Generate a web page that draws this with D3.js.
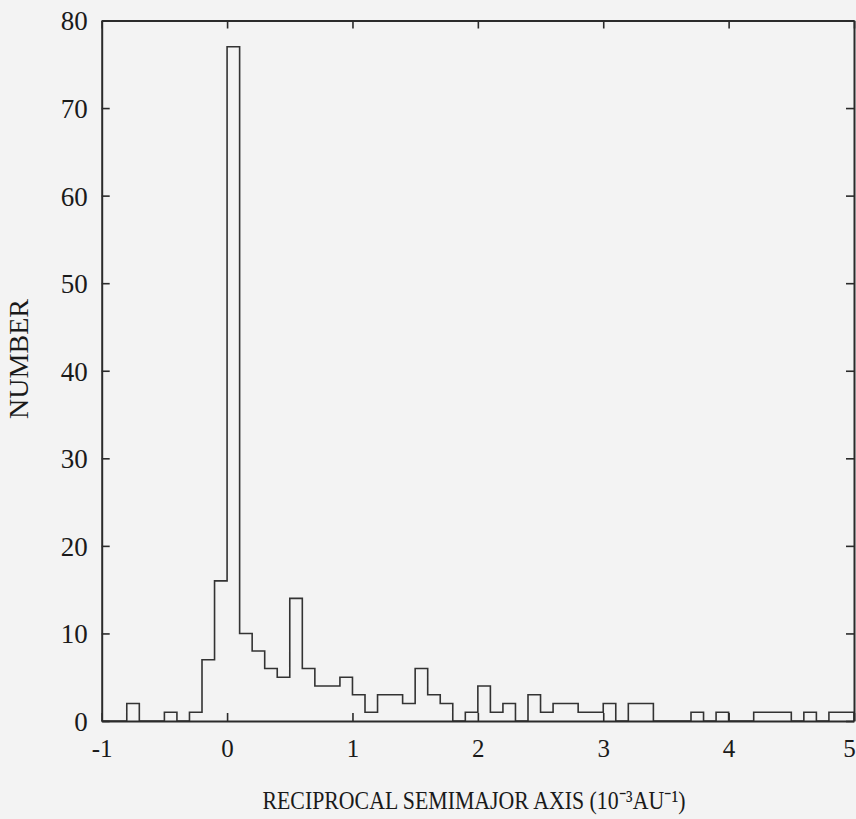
<!DOCTYPE html>
<html>
<head>
<meta charset="utf-8">
<script src="https://cdn.jsdelivr.net/npm/d3@7"></script>
<style>
  html, body { margin: 0; padding: 0; background: #f3f3f3; }
  svg { display: block; }
</style>
</head>
<body>
<svg id="chart" width="856" height="819"></svg>
<script>
// Bin left edges (units of 10^-3 AU^-1), bin width 0.1
const binStarts = [
  -1.0,-0.9,-0.8,-0.7,-0.6,-0.5,-0.4,-0.3,-0.2,-0.1,
   0.0, 0.1, 0.2, 0.3, 0.4, 0.5, 0.6, 0.7, 0.8, 0.9,
   1.0, 1.1, 1.2, 1.3, 1.4, 1.5, 1.6, 1.7, 1.8, 1.9,
   2.0, 2.1, 2.2, 2.3, 2.4, 2.5, 2.6, 2.7, 2.8, 2.9,
   3.0, 3.1, 3.2, 3.3, 3.4, 3.5, 3.6, 3.7, 3.8, 3.9,
   4.0, 4.1, 4.2, 4.3, 4.4, 4.5, 4.6, 4.7, 4.8, 4.9
];
const counts = [
   0, 0, 2, 0, 0, 1, 0, 1, 7,16,
  77,10, 8, 6, 5,14, 6, 4, 4, 5,
   3, 1, 3, 3, 2, 6, 3, 2, 0, 1,
   4, 1, 2, 0, 3, 1, 2, 2, 1, 1,
   2, 0, 2, 2, 0, 0, 0, 1, 0, 1,
   0, 0, 1, 1, 1, 0, 1, 0, 1, 1
];
const binWidth = 0.1;
const xTicks = [-1, 0, 1, 2, 3, 4, 5];
const yTicks = [0, 10, 20, 30, 40, 50, 60, 70, 80];
const yLabel = "NUMBER";
const xLabel = "RECIPROCAL SEMIMAJOR AXIS (10\u207B\u00B3AU\u207B\u00B9)";

(function () {
const svg = d3.select("#chart");
const mLeft = 101.7, mRight = 854, mTop = 20.5, mBottom = 721;
const ink = "#2b2b2b";

const x = d3.scaleLinear().domain([-1, 5]).range([mLeft, mRight]);
const y = d3.scaleLinear().domain([0, 80]).range([mBottom, mTop]);

// Histogram outline (step)
const pts = [[binStarts[0], 0]];
binStarts.forEach((b, i) => pts.push([b, counts[i]]));
pts.push([binStarts[binStarts.length - 1] + binWidth, counts[counts.length - 1]]);
pts.push([binStarts[binStarts.length - 1] + binWidth, 0]);

const line = d3.line().x(d => x(d[0])).y(d => y(d[1])).curve(d3.curveStepAfter);
svg.append("path")
  .attr("d", line(pts))
  .attr("fill", "none")
  .attr("stroke", "#333")
  .attr("stroke-width", 1.6);

// Axes with inward ticks
const font = "'Liberation Serif', 'Times New Roman', serif";
const tickLen = 8;

const gBottom = svg.append("g").attr("transform", `translate(0,${mBottom})`)
  .call(d3.axisBottom(x).tickValues(xTicks).tickSizeInner(-tickLen).tickSizeOuter(0).tickPadding(18).tickFormat(d => String(d)));
const gTop = svg.append("g").attr("transform", `translate(0,${mTop})`)
  .call(d3.axisTop(x).tickValues(xTicks).tickSizeInner(-tickLen).tickSizeOuter(0).tickFormat(""));
const gLeft = svg.append("g").attr("transform", `translate(${mLeft},0)`)
  .call(d3.axisLeft(y).tickValues(yTicks).tickSizeInner(-tickLen).tickSizeOuter(0).tickPadding(14).tickFormat(d => String(d)));
const gRight = svg.append("g").attr("transform", `translate(${mRight},0)`)
  .call(d3.axisRight(y).tickValues(yTicks).tickSizeInner(-tickLen).tickSizeOuter(0).tickFormat(""));

[gBottom, gTop, gLeft, gRight].forEach(g => {
  g.select(".domain").attr("stroke", ink).attr("stroke-width", 2);
  g.selectAll(".tick line").attr("stroke", ink).attr("stroke-width", 1.6);
  g.selectAll("text").attr("fill", "#1a1a1a").style("font-family", font);
});
gBottom.selectAll("text").style("font-size", "25px").attr("dy", "0.71em")
  .attr("dx", d => d === 5 ? -5 : 0);
gLeft.selectAll("text").style("font-size", "27px").attr("dy", "0.35em");

// Axis titles
svg.append("text")
  .attr("transform", "translate(28,359) rotate(-90)")
  .attr("text-anchor", "middle")
  .style("font-family", font)
  .style("font-size", "28px")
  .attr("fill", "#1a1a1a")
  .attr("textLength", 120)
  .attr("lengthAdjust", "spacingAndGlyphs")
  .text(yLabel);

svg.append("text")
  .attr("x", 474).attr("y", 809)
  .attr("text-anchor", "middle")
  .style("font-family", font)
  .style("font-size", "26px")
  .attr("fill", "#1a1a1a")
  .attr("textLength", 423)
  .attr("lengthAdjust", "spacingAndGlyphs")
  .text(xLabel);
})();
</script>
</body>
</html>
